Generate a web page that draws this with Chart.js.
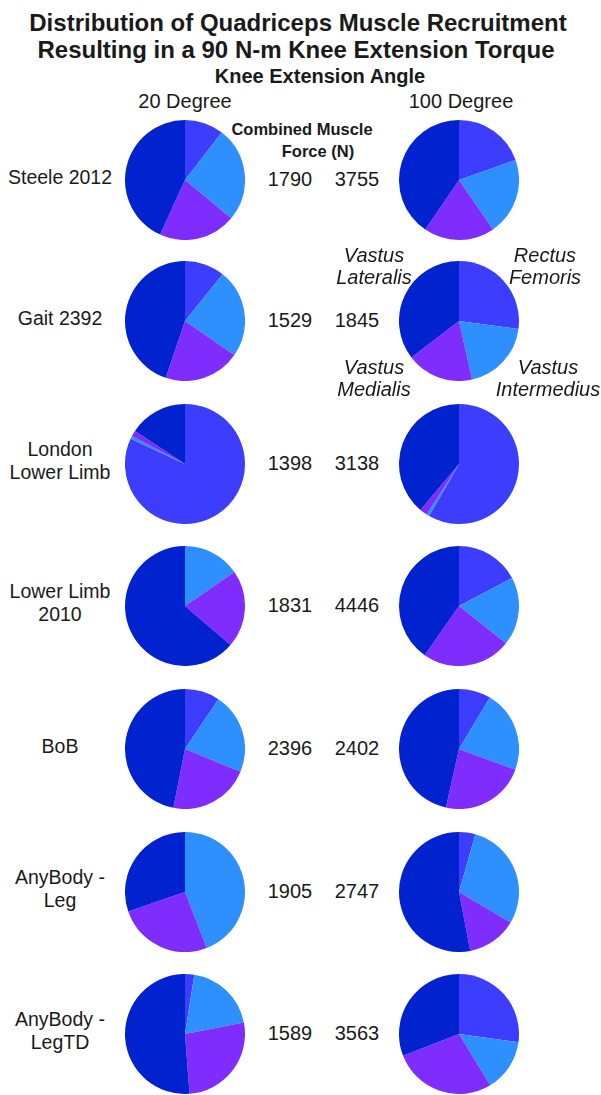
<!DOCTYPE html>
<html>
<head>
<meta charset="utf-8">
<script src="https://cdn.jsdelivr.net/npm/chart.js@4"></script>
<style>
    body { margin: 0; background: #fff; }
    #page { position: relative; width: 601px; height: 1095px; font-family: Arial, "Liberation Sans", sans-serif; color: #1a1a1a; overflow: hidden; }
    .txt { position: absolute; transform: translate(-50%, -50%); white-space: nowrap; text-align: center; line-height: 23px; }
    .title { font-weight: bold; font-size: 24px; line-height: 27px; }
    .sub { font-weight: bold; font-size: 20px; }
    .head { font-size: 20px; }
    .force-head { font-weight: bold; font-size: 16.5px; }
    .label { font-size: 19.5px; }
    .num { font-size: 20px; }
    .muscle { font-size: 20px; font-style: italic; line-height: 22px; }
    canvas { position: absolute; }
</style>
</head>
<body>
<div id="page"></div>
<script>
const muscles = ['Rectus Femoris', 'Vastus Intermedius', 'Vastus Medialis', 'Vastus Lateralis'];
const muscleColors = ['#3d3dff', '#2e8fff', '#7f2cff', '#0022cf'];

const models = ['Steele 2012', 'Gait 2392', 'London<br>Lower Limb', 'Lower Limb<br>2010', 'BoB', 'AnyBody -<br>Leg', 'AnyBody -<br>LegTD'];
const force20 = [1790, 1529, 1398, 1831, 2396, 1905, 1589];
const force100 = [3755, 1845, 3138, 4446, 2402, 2747, 3563];

// share of combined force (%) at 20 degree knee angle
const rectus20 = [10.5, 10.8, 81.9, 0, 9.4, 0, 2.5];
const intermedius20 = [25.5, 23.8, 0.8, 15.4, 21.8, 44.1, 19.4];
const medialis20 = [20.8, 20.6, 1.6, 20.9, 21.9, 25.6, 26.9];
const lateralis20 = [43.2, 44.8, 15.7, 63.7, 46.9, 30.3, 51.2];

// share of combined force (%) at 100 degree knee angle
const rectus100 = [19.6, 27.1, 58.3, 17.3, 8.6, 4.4, 27.2];
const intermedius100 = [20.8, 19.4, 0.8, 18.4, 22.0, 29.1, 14.1];
const medialis100 = [19.1, 18.1, 2.0, 24.0, 22.9, 13.5, 27.8];
const lateralis100 = [40.5, 35.4, 38.9, 40.3, 46.5, 53.0, 30.9];

const page = document.getElementById('page');
const rowY = [180, 321, 464, 606, 749, 892, 1034];
const colX = [185, 459];
const pieSize = 120;

function addText(cls, html, x, y) {
    const d = document.createElement('div');
    d.className = 'txt ' + cls;
    d.innerHTML = html;
    d.style.left = x + 'px';
    d.style.top = y + 'px';
    page.appendChild(d);
}

function addPie(values, cx, cy) {
    const c = document.createElement('canvas');
    c.width = pieSize;
    c.height = pieSize;
    c.style.left = (cx - pieSize / 2) + 'px';
    c.style.top = (cy - pieSize / 2) + 'px';
    page.appendChild(c);
    new Chart(c.getContext('2d'), {
        type: 'pie',
        data: {
            labels: muscles,
            datasets: [{
                data: values,
                backgroundColor: muscleColors,
                borderWidth: 0
            }]
        },
        options: {
            responsive: false,
            animation: false,
            layout: { padding: 0 },
            plugins: { legend: { display: false }, tooltip: { enabled: false } }
        }
    });
}

// headings
addText('title', 'Distribution of Quadriceps Muscle Recruitment', 298, 22);
addText('title', 'Resulting in a 90 N-m Knee Extension Torque', 296, 49);
addText('sub', 'Knee Extension Angle', 320, 76);
addText('head', '20 Degree', 185, 101);
addText('head', '100 Degree', 461, 101);
addText('force-head', 'Combined Muscle', 302, 129);
addText('force-head', 'Force (N)', 318, 151);

models.forEach((m, i) => {
    const y = rowY[i];
    addText('label', m, 60, y - 3);
    addText('num', force20[i], 290, y - 1);
    addText('num', force100[i], 357, y - 1);
    addPie([rectus20[i], intermedius20[i], medialis20[i], lateralis20[i]], colX[0], y);
    addPie([rectus100[i], intermedius100[i], medialis100[i], lateralis100[i]], colX[1], y);
});

// muscle names around the Gait 2392 / 100 degree pie
addText('muscle', 'Vastus<br>Lateralis', 374, 266);
addText('muscle', 'Rectus<br>Femoris', 545, 266);
addText('muscle', 'Vastus<br>Medialis', 374, 378);
addText('muscle', 'Vastus<br>Intermedius', 548, 378);
</script>
</body>
</html>
